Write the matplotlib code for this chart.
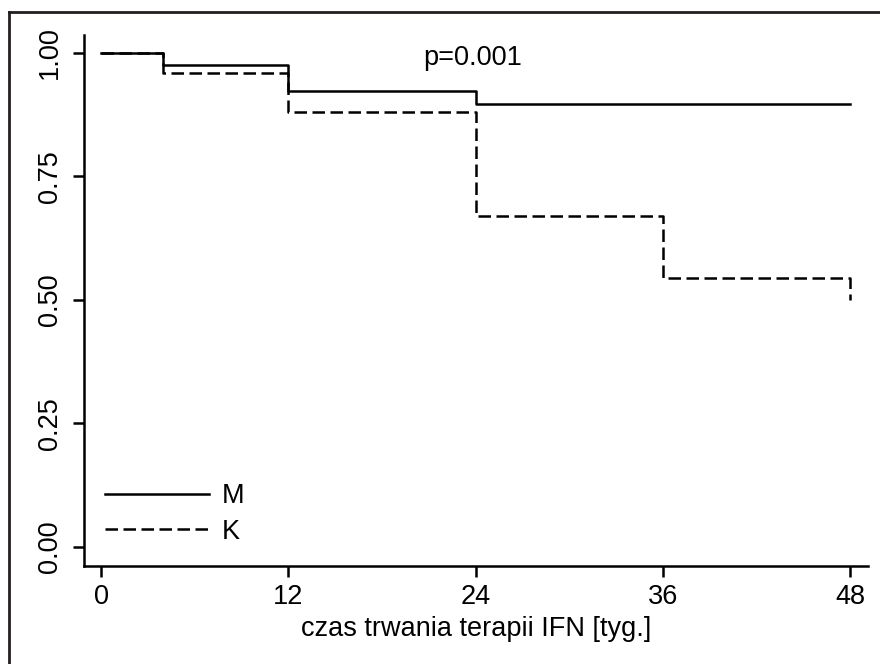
import matplotlib
matplotlib.use("Agg")
import matplotlib.pyplot as plt
from matplotlib.lines import Line2D

plt.rcParams['font.family'] = ['Liberation Sans', 'DejaVu Sans']

# Kaplan-Meier style step curves
weeks_m = [0, 4, 12, 24, 48]
surv_m = [1.0, 0.976, 0.924, 0.897, 0.897]
weeks_k = [0, 4, 12, 24, 36, 48]
surv_k = [1.0, 0.960, 0.881, 0.670, 0.545, 0.500]

group_labels = ['M', 'K']
x_ticks = [0, 12, 24, 36, 48]
y_ticks = [0.0, 0.25, 0.5, 0.75, 1.0]
p_text = 'p=0.001'
x_title = 'czas trwania terapii IFN [tyg.]'

fs = 19.5
W, H = 880, 664
fig = plt.figure(figsize=(W / 100, H / 100), dpi=100)
ax = fig.add_axes([84 / W, 1 - 566 / H, (868 - 84) / W, (566 - 35) / H])

lw = 1.8
# solid curve on top so the shared start segment reads as one clean line
ax.step(weeks_m, surv_m, where='post', color='black', lw=lw, zorder=3,
        label=group_labels[0])
ax.step(weeks_k, surv_k, where='post', color='black', lw=lw, zorder=2,
        dashes=(5, 2.2), label=group_labels[1])

ax.set_xlim(-1.09, 49.15)
ax.set_ylim(-0.0385, 1.0364)
ax.set_xticks(x_ticks)
ax.set_yticks(y_ticks)
ax.set_yticklabels([f'{v:.2f}' for v in y_ticks], rotation=90, va='center')

for side in ('top', 'right'):
    ax.spines[side].set_visible(False)
for side in ('left', 'bottom'):
    ax.spines[side].set_linewidth(1.8)
ax.tick_params(direction='out', length=8, width=1.8, labelsize=fs, pad=5)
ax.tick_params(axis='y', pad=7)

ax.set_xlabel(x_title, fontsize=fs, labelpad=4)
ax.text(23.8, 0.99, p_text, fontsize=fs, ha='center', va='center')

ax.legend(loc='lower left', bbox_to_anchor=(0.027, 0.04), frameon=False,
          fontsize=fs, handlelength=3.85, handletextpad=0.45, labelspacing=0.35,
          borderpad=0, borderaxespad=0)

# outer frame (only top and left edges fall inside the canvas)
frame_kw = dict(color='#231f20', lw=2.0, transform=fig.transFigure)
fig.add_artist(Line2D([9 / W, 1], [1 - 12 / H, 1 - 12 / H], **frame_kw))
fig.add_artist(Line2D([9 / W, 9 / W], [0, 1 - 12 / H], **frame_kw))

fig.savefig('out.png', dpi=100)
